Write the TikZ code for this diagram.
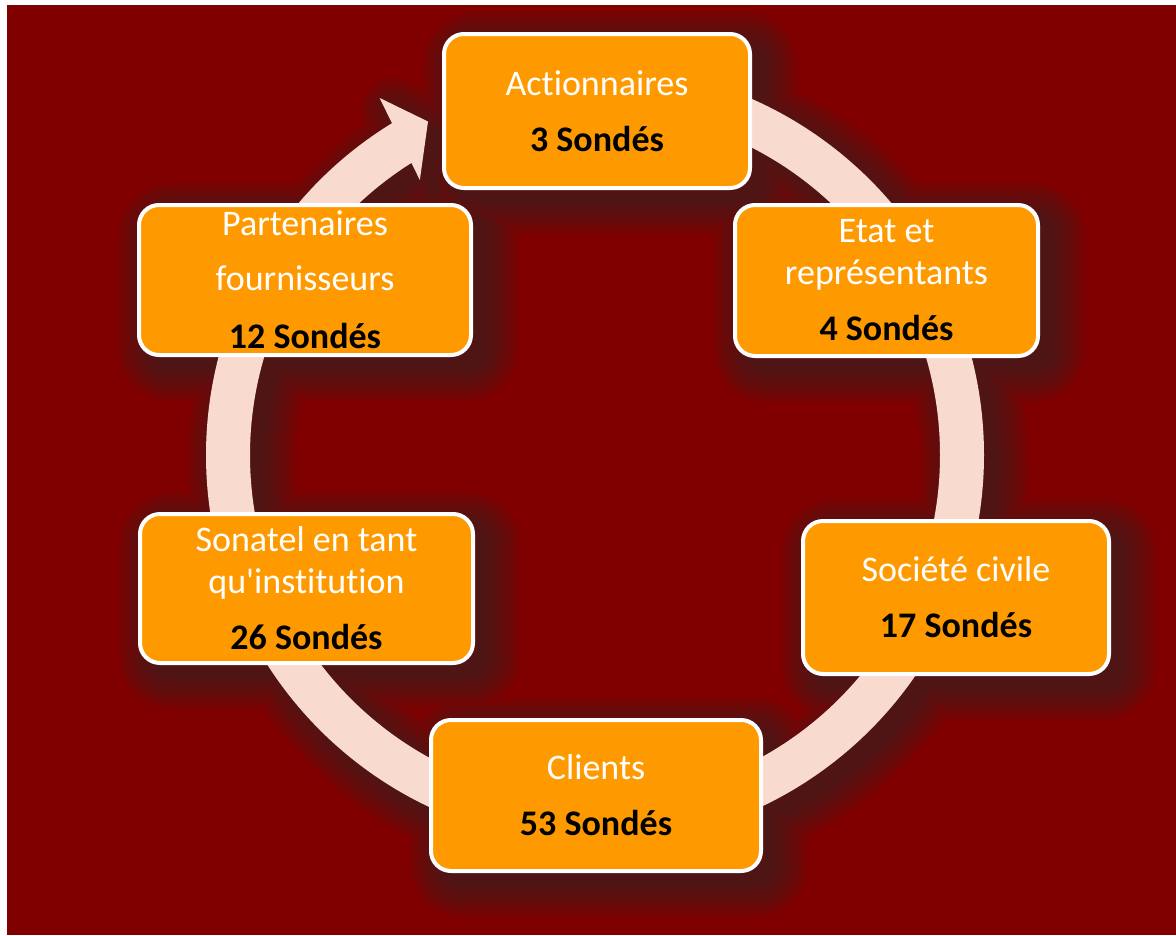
\documentclass[tikz,border=0pt]{standalone}
\usepackage{fontspec}
\setmainfont{Carlito}[Ligatures={TeXOff,NoCommon}]
\usetikzlibrary{calc}
\definecolor{wine}{HTML}{800000}
\definecolor{peach}{HTML}{F8DACE}
\definecolor{amber}{HTML}{FF9900}
\definecolor{umbra}{HTML}{2E2A2A}
\pgfdeclarelayer{bg}
\pgfdeclarelayer{shade}
\pgfdeclarelayer{ring}
\pgfsetlayers{bg,shade,ring,main}
\tikzset{
  stake/.style={draw=white, line width=4pt, fill=amber, rounded corners=20pt,
    inner sep=0pt, align=center, text=white,
    font=\fontsize{36}{42}\selectfont},
  loop/.style={peach, line width=44pt},
}
\newcommand\polled[1]{\textcolor{black}{\bfseries #1 Sondés}}
% ring geometry: mid radius and end angle of the shaft
\def\ringR{367}
\def\ringEnd{238.7}
% shadow offset
\def\dropx{13}
\def\dropy{12}
\begin{document}
\begin{tikzpicture}[x=1pt,y=-1pt]
\useasboundingbox (0,0) rectangle (1176,935);
\begin{pgfonlayer}{bg}
  \fill[white] (0,0) rectangle (1176,935);
  \fill[wine] (7,5) rectangle (1176,935);
\end{pgfonlayer}

\coordinate (hub) at (595,455);

% stakeholder boxes
\node[stake, minimum width=306pt, minimum height=154pt] (act) at (597,111)
  {Actionnaires\\[14pt]\polled{3}};
\node[stake, minimum width=303pt, minimum height=151pt] (etat) at (886.5,280.5)
  {Etat et\\représentants\\[14pt]\polled{4}};
\node[stake, minimum width=306pt, minimum height=153pt] (soc) at (956,597.5)
  {Société civile\\[14pt]\polled{17}};
\node[stake, minimum width=330pt, minimum height=151pt] (cli) at (596,795.5)
  {Clients\\[14pt]\polled{53}};
\node[stake, minimum width=333pt, minimum height=149pt] (son) at (306.5,588.5)
  {Sonatel en tant\\qu'institution\\[14pt]\polled{26}};
\node[stake, minimum width=332pt, minimum height=150pt] (par) at (305,280)
  {Partenaires\\[13pt]fournisseurs\\[16pt]\polled{12}};

% soft drop shadows, offset down and to the right
\begin{pgfonlayer}{shade}
  \foreach \s in {0,4,...,32}{
    \begin{scope}[transparency group, opacity=0.085]
      \draw[umbra, line width={44pt+2*\s pt}]
        ([shift={(\dropx,\dropy)}]hub) ++(-90:\ringR) arc[start angle=-90, end angle=\ringEnd, radius=\ringR];
      \filldraw[umbra, line width={2*\s pt+0.1pt}, line join=round]
        ([shift={(\dropx,\dropy)}]$(hub)+(238.9:417)$) -- ([shift={(\dropx,\dropy)}]$(hub)+(243.4:373)$)
        -- ([shift={(\dropx,\dropy)}]$(hub)+(237.5:326)$) -- cycle;
      \foreach \n in {act,etat,soc,cli,son,par}{
        \fill[umbra, rounded corners={20pt+\s pt}]
          ([shift={(\dropx-\s,\dropy-\s)}]\n.north west) rectangle ([shift={(\dropx+\s,\dropy+\s)}]\n.south east);
      }
    \end{scope}
  }
\end{pgfonlayer}

% circular arrow behind the boxes
\begin{pgfonlayer}{ring}
  \draw[loop] (hub) ++(-90:\ringR) arc[start angle=-90, end angle=\ringEnd, radius=\ringR];
  \fill[peach] ($(hub)+(238.9:417)$) coordinate (barbA) -- ($(hub)+(243.4:373)$) coordinate (tip)
    -- ($(hub)+(237.5:326)$) coordinate (barbB) -- cycle;
\end{pgfonlayer}
\end{tikzpicture}
\end{document}
